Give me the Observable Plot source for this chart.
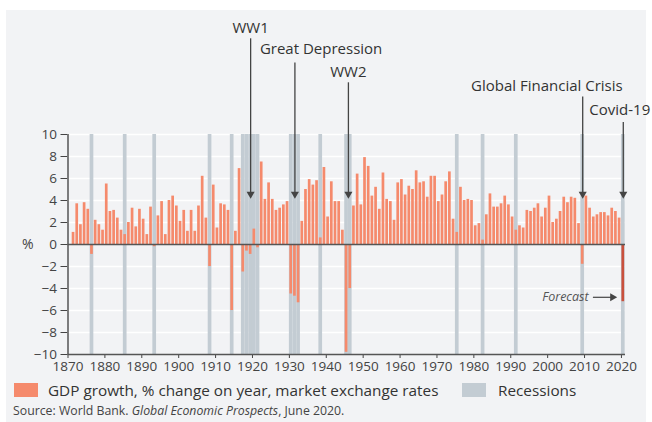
<!DOCTYPE html>
<html>
<head>
<meta charset="utf-8">
<script src="https://cdn.jsdelivr.net/npm/d3@7"></script>
<script src="https://cdn.jsdelivr.net/npm/@observablehq/plot@0.6"></script>
<style>
  body { margin: 0; background: #fff; font-family: "Open Sans", sans-serif; font-weight: 400; }
  #wrap { position: absolute; left: 6px; top: 10px; width: 640px; height: 412px; background: #f2f3f5; }
  #chart { position: absolute; left: 0; top: 0; }
  .sw { position: absolute; width: 24px; height: 14px; }
  .lt { position: absolute; font-size: 15.3px; color: #333; line-height: 20px; white-space: nowrap; }
  #source { position: absolute; left: 7px; top: 393px; font-size: 12.3px; color: #444; white-space: nowrap; line-height: 16px; }
</style>
</head>
<body>
<div id="wrap">
  <div id="chart"></div>
  <div class="sw" id="sw1" style="left:8px; top:373px;"></div>
  <div class="lt" id="lt1" style="left:42px; top:370px;"></div>
  <div class="sw" id="sw2" style="left:456px; top:373px;"></div>
  <div class="lt" id="lt2" style="left:492px; top:370px;"></div>
  <div id="source"></div>
</div>
<script>
// ---- data ----
const years = d3.range(1871, 2021);
const growth = [
  1.1, 3.7, 1.8, 3.8, 3.2, -0.9, 2.2, 1.8, 1.3, 5.5,   // 1871-1880
  3.0, 3.1, 2.4, 1.3, 0.9, 2.0, 3.3, 1.6, 3.2, 2.3,    // 1881-1890
  0.9, 3.4, -0.2, 2.6, 3.9, 0.9, 4.0, 4.4, 3.5, 2.1,   // 1891-1900
  3.1, 1.2, 3.1, 1.2, 3.5, 6.2, 2.4, -2.0, 5.4, 1.5,   // 1901-1910
  3.7, 3.6, 3.1, -6.0, 1.2, 6.9, -2.5, -0.6, -0.9, 1.4, // 1911-1920
  -0.3, 7.5, 4.1, 5.6, 4.1, 3.1, 3.3, 3.6, 3.9, -4.5,  // 1921-1930
  -4.7, -5.3, 2.1, 5.0, 5.9, 5.4, 5.8, 0.6, 7.0, 2.5,  // 1931-1940
  5.7, 3.9, 3.9, 1.3, -9.8, -4.0, 3.5, 6.4, 3.6, 7.9,  // 1941-1950
  7.1, 4.4, 5.2, 3.2, 6.5, 4.1, 3.9, 2.2, 5.6, 5.9,    // 1951-1960
  4.5, 5.3, 5.0, 6.7, 5.6, 5.7, 4.3, 6.2, 6.2, 3.9,    // 1961-1970
  4.5, 5.7, 6.6, 2.3, 1.1, 5.2, 4.0, 4.1, 4.0, 1.7,    // 1971-1980
  1.9, 0.4, 2.7, 4.6, 3.4, 3.4, 3.7, 4.4, 3.6, 2.5,    // 1981-1990
  1.3, 1.7, 1.5, 3.1, 3.0, 3.3, 3.7, 2.5, 3.3, 4.4,    // 1991-2000
  2.0, 2.3, 3.0, 4.3, 3.8, 4.3, 4.2, 1.9, -1.8, 4.4,   // 2001-2010
  3.3, 2.5, 2.7, 2.9, 2.9, 2.6, 3.3, 3.0, 2.4, -5.2    // 2011-2020
];
const forecastYears = [2020];
const recessionYears = [1876, 1885, 1893, 1908, 1914, 1917, 1918, 1919, 1920, 1921,
  1930, 1931, 1932, 1938, 1945, 1946, 1975, 1982, 1991, 2009, 2020];
const yTicks = d3.range(-10, 11, 2);
const xTicks = d3.range(1870, 2021, 10);
const events = ["WW1", "Great Depression", "WW2", "Global Financial Crisis", "Covid-19"];
const eventYear = [1919.5, 1931.5, 1946, 2009.5, 2020.5];
const labelLevel = [19.7, 17.8, 15.7, 14.4, 12.2];
const arrowTop = [18.7, 16.5, 14.7, 13.4, 11.1];
const arrowTip = 4.3;
const labelAnchor = ["middle", "start", "middle", "end", "end"];
const labelShift = [0, -35, 0, 40, 27];
const forecastLabel = "Forecast";
const forecastArrow = {text: 2011.1, from: 2012.4, to: 2018.4, level: -4.8};
const legendLabels = ["GDP growth, % change on year, market exchange rates", "Recessions"];
const sourcePlain = "Source: World Bank. ";
const sourceItalic = "Global Economic Prospects";
const sourceEnd = ", June 2020.";

const barColor = "#f58a6c";
const forecastColor = "#c9503d";
const recColor = "#c3ccd3";
const ink = "#444";

const data = years.map((year, i) => ({year, value: growth[i], forecast: forecastYears.includes(year)}));
const rec = recessionYears.map(year => ({year}));
const ev = events.map((label, i) => ({label, x: eventYear[i], level: labelLevel[i], top: arrowTop[i], anchor: labelAnchor[i], dx: labelShift[i]}));

const chart = Plot.plot({
  width: 640,
  height: 368,
  marginLeft: 61.5,
  marginRight: 21,
  marginTop: 124,
  marginBottom: 24,
  style: {background: "transparent", fontFamily: "Open Sans", fontSize: "13.5px", color: ink, overflow: "visible"},
  x: {domain: [1870, 2021.1], ticks: xTicks, tickFormat: d => String(d), tickSize: 4, tickPadding: 3, label: null},
  y: {domain: [-10, 10], ticks: yTicks, tickSize: 7, tickPadding: 4, label: null},
  marks: [
    Plot.ruleY(yTicks.filter(d => d !== 0 && d !== -10), {stroke: "#fff", strokeWidth: 1.6}),
    Plot.rect(rec, {x1: "year", x2: d => d.year + 1, y1: -10, y2: 10, fill: recColor}),
    Plot.rect(data, {x1: "year", x2: d => d.year + 1, y1: 0, y2: "value",
      fill: d => d.forecast ? forecastColor : barColor, insetLeft: 0.5, insetRight: 0.5}),
    Plot.ruleY([0], {stroke: "#555", strokeWidth: 1.5}),
    Plot.ruleY([-10], {stroke: "#555", strokeWidth: 1.5}),
    Plot.ruleX([1870], {stroke: "#555", strokeWidth: 1.5}),
    Plot.text(["%"], {frameAnchor: "left", y: [0], text: d => d, dx: -46, fontSize: 14, fill: ink}),
    // event annotations
    Plot.ruleX(ev, {x: "x", y1: "top", y2: arrowTip, stroke: ink, strokeWidth: 1.3}),
    Plot.dot(ev, {x: "x", y: arrowTip, symbol: "triangle", r: 3, rotate: 180, fill: ink, stroke: null, dy: -3}),
    ...ev.map(e => Plot.text([e], {x: "x", y: "level", text: "label", textAnchor: e.anchor, dx: e.dx, fontSize: 15, fill: "#333"})),
    // forecast annotation
    Plot.text([forecastLabel], {x: [forecastArrow.text], y: [forecastArrow.level], text: d => d, textAnchor: "end", fontStyle: "italic", fontSize: 12.5, fill: "#555"}),
    Plot.ruleY([forecastArrow.level], {x1: forecastArrow.from, x2: forecastArrow.to, stroke: ink, strokeWidth: 1.2}),
    Plot.dot([forecastArrow.to], {x: d => d, y: [forecastArrow.level], symbol: "triangle", r: 3, rotate: 90, fill: ink, stroke: null, dx: -3})
  ]
});
document.getElementById("chart").appendChild(chart);

document.getElementById("sw1").style.background = barColor;
document.getElementById("sw2").style.background = recColor;
document.getElementById("lt1").textContent = legendLabels[0];
document.getElementById("lt2").textContent = legendLabels[1];
const src = document.getElementById("source");
src.appendChild(document.createTextNode(sourcePlain));
const it = document.createElement("i"); it.textContent = sourceItalic; src.appendChild(it);
src.appendChild(document.createTextNode(sourceEnd));
</script>
</body>
</html>
